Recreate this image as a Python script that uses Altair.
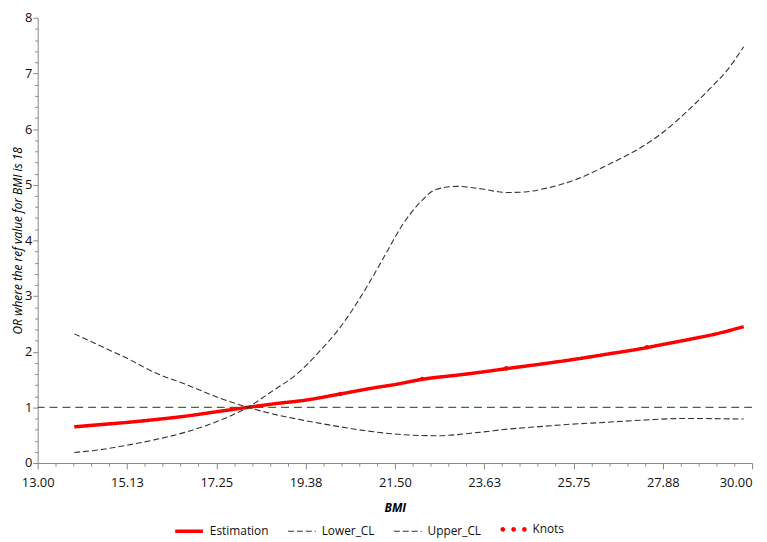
import altair as alt
import pandas as pd

# ---- data ----
est_x = [13.87, 14.5, 15.13, 15.8, 16.5, 17.25, 18.0, 18.7, 19.38, 20.2, 21.0, 21.5,
         22.2, 23.0, 23.63, 24.2, 25.0, 25.75, 26.5, 27.4, 27.88, 28.5, 29.2, 29.8]
est_y = [0.65, 0.69, 0.73, 0.78, 0.84, 0.92, 1.00, 1.07, 1.13, 1.24, 1.35, 1.41,
         1.51, 1.58, 1.64, 1.70, 1.78, 1.86, 1.95, 2.06, 2.13, 2.22, 2.33, 2.45]

lower_x = [13.87, 14.5, 15.13, 15.8, 16.5, 17.25, 18.0, 18.6, 19.17, 20.2, 21.0, 21.5,
           22.46, 23.5, 24.2, 25.06, 25.46, 26.5, 27.4, 28.4, 29.8]
lower_y = [2.32, 2.10, 1.88, 1.62, 1.42, 1.19, 1.00, 0.88, 0.79, 0.65, 0.56, 0.52,
           0.49, 0.55, 0.61, 0.66, 0.685, 0.73, 0.77, 0.80, 0.79]

upper_x = [13.87, 14.5, 15.13, 15.8, 16.5, 17.25, 18.0, 18.6, 19.17, 19.7, 20.18, 20.86,
           21.24, 21.7, 22.07, 22.5, 22.98, 23.5, 24.18, 24.6, 25.06, 25.76, 26.63, 27.2,
           27.81, 28.4, 28.99, 29.4, 29.8]
upper_y = [0.19, 0.24, 0.32, 0.42, 0.55, 0.74, 1.00, 1.30, 1.60, 2.00, 2.42, 3.20,
           3.70, 4.30, 4.66, 4.92, 4.97, 4.93, 4.86, 4.87, 4.93, 5.08, 5.38, 5.60,
           5.90, 6.28, 6.72, 7.05, 7.48]

knot_x = [20.2, 22.15, 24.15, 27.5]
knot_y = [1.24, 1.51, 1.70, 2.08]

line_names = ["Estimation", "Lower_CL", "Upper_CL"]
line_colors = ["#ff0000", "#333333", "#333333"]
line_dashes = [[1, 0], [6, 3], [6, 3]]
line_widths = [3.5, 1.1, 1.1]

x_major = [13.0, 15.125, 17.25, 19.375, 21.5, 23.625, 25.75, 27.875, 30.0]
y_major = [0, 1, 2, 3, 4, 5, 6, 7, 8]
ref_value = [1]

# minor ticks (4 between each pair of majors)
x_minor = [a + (b - a) * k / 5 for a, b in zip(x_major[:-1], x_major[1:]) for k in range(1, 5)]
y_minor = [a + (b - a) * k / 5 for a, b in zip(y_major[:-1], y_major[1:]) for k in range(1, 5)]

lines = pd.concat([
    pd.DataFrame({"BMI": est_x, "OR": est_y, "series": "Estimation"}),
    pd.DataFrame({"BMI": lower_x, "OR": lower_y, "series": "Lower_CL"}),
    pd.DataFrame({"BMI": upper_x, "OR": upper_y, "series": "Upper_CL"}),
], ignore_index=True)
knots = pd.DataFrame({"BMI": knot_x, "OR": knot_y, "series": "Knots"})
ref = pd.DataFrame({"OR": ref_value})

FONT = "Open Sans"

xscale = alt.Scale(domain=[13, 30], nice=False, zero=False)
yscale = alt.Scale(domain=[0, 8], nice=False)

knot_path = ("M-0.95,0a0.17,0.17 0 1,0 0.34,0a0.17,0.17 0 1,0 -0.34,0Z"
             "M-0.17,0a0.17,0.17 0 1,0 0.34,0a0.17,0.17 0 1,0 -0.34,0Z"
             "M0.61,0a0.17,0.17 0 1,0 0.34,0a0.17,0.17 0 1,0 -0.34,0Z")

line_legend = alt.Legend(
    title=None, orient="none", direction="horizontal",
    legendX=137, legendY=503,
    labelFont=FONT, labelFontSize=12, labelColor="#111111",
    columnPadding=16, symbolSize=784, labelOffset=5, symbolType="stroke",
)
knot_legend = alt.Legend(
    title=None, orient="none", direction="horizontal",
    legendX=467, legendY=503,
    labelFont=FONT, labelFontSize=12, labelColor="#111111",
    symbolSize=784, labelOffset=5, symbolOpacity=1,
    symbolFillColor="#ff0000", symbolStrokeWidth=0,
)

x_axis = alt.Axis(values=x_major, format=".2f", title="BMI", titleFont=FONT,
                  titleFontSize=12, titleFontStyle="italic", titleFontWeight="bold",
                  titlePadding=13, labelFont=FONT, labelFontSize=13, labelColor="#111111",
                  tickSize=6, tickColor="#888888", domainColor="#888888", labelPadding=8,
                  grid=False, orient="bottom", labelFlush=False,
                  labelAlign={"condition": {"test": "datum.value >= 30", "value": "right"},
                              "value": "center"})
y_axis = alt.Axis(values=y_major, format="d", title="OR where the ref value for BMI is 18",
                  titleFont=FONT, titleFontSize=12, titleFontStyle="italic",
                  titleFontWeight="normal", titlePadding=0, labelFont=FONT,
                  labelFontSize=13, labelColor="#111111", tickSize=5,
                  tickColor="#888888", domainColor="#888888", labelPadding=1,
                  grid=False, orient="left")

line_layer = alt.Chart(lines).mark_line(interpolate="monotone").encode(
    x=alt.X("BMI:Q", scale=xscale, axis=x_axis),
    y=alt.Y("OR:Q", scale=yscale, axis=y_axis),
    color=alt.Color("series:N", scale=alt.Scale(domain=line_names, range=line_colors),
                    legend=line_legend),
    strokeDash=alt.StrokeDash("series:N",
                              scale=alt.Scale(type="ordinal", domain=line_names, range=line_dashes),
                              legend=line_legend),
    strokeWidth=alt.StrokeWidth("series:N",
                                scale=alt.Scale(type="ordinal", domain=line_names, range=line_widths),
                                legend=line_legend),
)

ref_layer = alt.Chart(ref).mark_rule(color="#2b7a2b", strokeDash=[8, 5], strokeWidth=1.2).encode(
    y=alt.Y("OR:Q", scale=yscale),
)

knot_layer = alt.Chart(knots).mark_circle(size=22, opacity=1, color="#ff0000").encode(
    x=alt.X("BMI:Q", scale=xscale),
    y=alt.Y("OR:Q", scale=yscale),
)

knot_legend_layer = alt.Chart(knots).mark_point(filled=True, opacity=0, color="#ff0000").encode(
    x=alt.X("BMI:Q", scale=xscale),
    y=alt.Y("OR:Q", scale=yscale),
    shape=alt.Shape("series:N", scale=alt.Scale(domain=["Knots"], range=[knot_path]),
                    legend=knot_legend),
)

main = alt.layer(ref_layer, line_layer, knot_layer, knot_legend_layer)

minor_layer = alt.Chart(knots).mark_point(opacity=0).encode(
    x=alt.X("BMI:Q", scale=xscale,
            axis=alt.Axis(values=x_minor, labels=False, title=None, domain=False,
                          tickSize=3, tickColor="#888888", grid=False, orient="bottom")),
    y=alt.Y("OR:Q", scale=yscale,
            axis=alt.Axis(values=y_minor, labels=False, title=None, domain=False,
                          tickSize=3, tickColor="#888888", grid=False, orient="left")),
)

chart = alt.layer(main, minor_layer).resolve_axis(
    x="independent", y="independent"
).properties(
    width=722, height=450,
    autosize=alt.AutoSizeParams(type="none"),
    padding={"left": 30, "top": 7, "right": 7, "bottom": 77},
).configure_view(stroke=None)

chart.save("out.html", embed_options={"renderer": "svg", "actions": False})
